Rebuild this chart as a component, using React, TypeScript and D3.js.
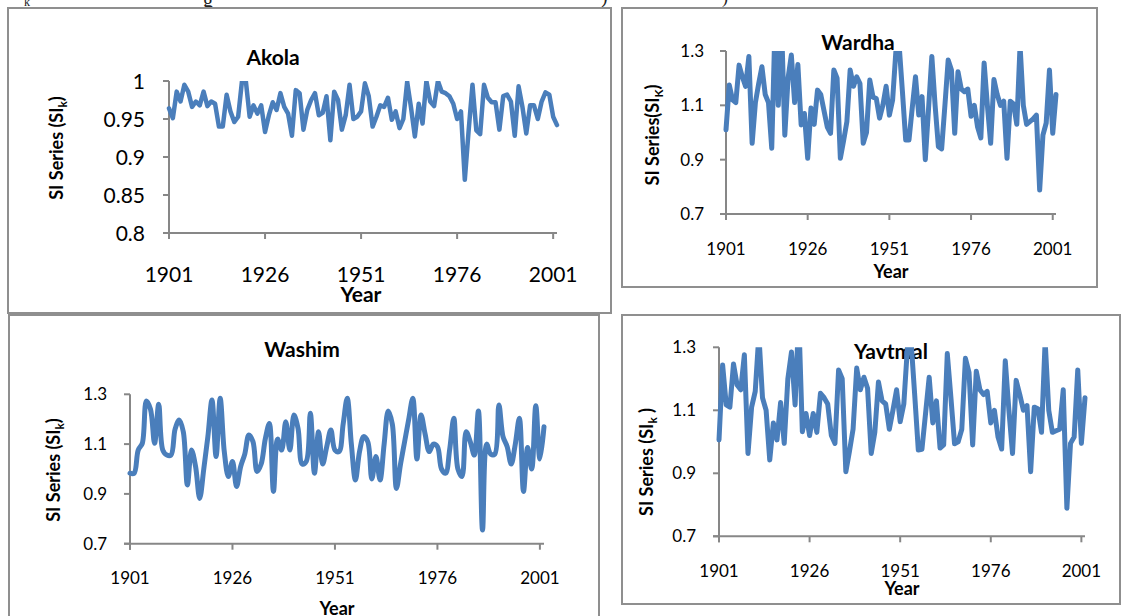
import React from 'react';
import * as d3 from 'd3';

// ---------- data ----------
const YEARS = d3.range(1901, 2003);
const YEAR_TICKS = [1901, 1926, 1951, 1976, 2001];

const AKOLA_TICKS = [0.8, 0.85, 0.9, 0.95, 1];
const AKOLA_TICK_LABELS = ['0.8', '0.85', '0.9', '0.95', '1'];
const SI_TICKS = [0.7, 0.9, 1.1, 1.3];
const SI_TICK_LABELS = ['0.7', '0.9', '1.1', '1.3'];

const AKOLA = [
  0.964, 0.951, 0.986, 0.973, 0.995, 0.986, 0.966, 0.973, 0.968, 0.986,
  0.967, 0.973, 0.970, 0.940, 0.940, 0.982, 0.960, 0.946, 0.953, 1.000,
  1.000, 0.953, 0.968, 0.957, 0.968, 0.933, 0.955, 0.972, 0.962, 0.984,
  0.966, 0.957, 0.928, 0.988, 0.984, 0.936, 0.962, 0.975, 0.984, 0.955,
  0.958, 0.980, 0.922, 0.986, 0.975, 0.936, 0.955, 0.995, 0.950, 0.953,
  0.960, 0.997, 0.980, 0.940, 0.953, 0.968, 0.966, 0.978, 0.949, 0.960,
  0.938, 0.950, 0.999, 0.965, 0.927, 0.970, 0.944, 1.000, 0.973, 0.967,
  1.000, 0.986, 0.984, 0.980, 0.970, 0.950, 0.960, 0.870, 0.935, 0.995,
  0.935, 0.930, 0.995, 0.978, 0.972, 0.972, 0.936, 0.980, 0.982, 0.973,
  0.928, 0.993, 0.966, 0.931, 0.968, 0.968, 0.950, 0.973, 0.985, 0.982,
  0.953, 0.942,
];

const WARDHA = [
  1.01, 1.175, 1.12, 1.11, 1.248, 1.205, 1.17, 1.28, 0.96, 1.11,
  1.18, 1.242, 1.14, 1.11, 0.942, 1.40, 1.10, 1.40, 0.99, 1.20,
  1.285, 1.11, 1.25, 1.028, 1.07, 0.905, 1.09, 1.03, 1.156, 1.14,
  1.08, 1.02, 0.997, 1.23, 1.20, 0.905, 0.97, 1.04, 1.23, 1.17,
  1.205, 1.18, 0.96, 1.0, 1.193, 1.13, 1.125, 1.053, 1.10, 1.17,
  1.064, 1.12, 1.30, 1.32, 1.15, 0.972, 0.972, 1.09, 1.205, 1.064,
  1.132, 0.90, 1.09, 1.28, 1.10, 0.948, 0.94, 1.10, 1.267, 1.23,
  0.997, 1.224, 1.16, 1.15, 1.16, 1.06, 1.10, 1.02, 0.98, 1.256,
  1.10, 0.96, 1.195, 1.14, 1.10, 1.115, 0.905, 1.115, 1.105, 1.03,
  1.32, 1.10, 1.03, 1.04, 1.05, 1.064, 0.788, 0.99, 1.035, 1.23,
  0.997, 1.14,
];

const WASHIM = [
  0.983, 0.983, 1.076, 1.103, 1.273, 1.24, 1.103, 1.26, 1.076, 1.056,
  1.056, 1.16, 1.197, 1.15, 0.936, 1.076, 1.01, 0.882, 1.0, 1.13,
  1.277, 1.05, 1.284, 1.07, 0.97, 1.03, 0.93, 1.01, 1.06, 1.137,
  1.11, 0.99, 1.02, 1.12, 1.183, 0.91, 1.12, 1.076, 1.19, 1.076,
  1.217, 1.163, 1.02, 1.03, 1.224, 0.983, 1.15, 1.02, 1.09, 1.157,
  1.076, 1.07, 1.18, 1.284, 1.10, 0.956, 1.07, 1.13, 1.11, 0.96,
  1.05, 0.956, 1.10, 1.233, 1.18, 0.922, 1.02, 1.11, 1.20, 1.284,
  1.04, 1.217, 1.14, 1.07, 1.10, 1.09, 1.0, 0.983, 1.08, 1.204,
  1.0, 0.97, 1.15, 1.11, 1.056, 1.233, 0.755, 1.10, 1.06, 1.06,
  1.257, 1.13, 1.09, 1.02, 1.10, 1.204, 0.91, 1.086, 1.0, 1.254,
  1.04, 1.17,
];

const YAVTMAL = [
  1.006, 1.244, 1.117, 1.11, 1.247, 1.18, 1.165, 1.276, 0.963, 1.11,
  1.16, 1.34, 1.14, 1.10, 0.942, 1.06, 1.006, 1.125, 0.995, 1.20,
  1.285, 1.117, 1.40, 1.032, 1.09, 1.02, 1.09, 1.03, 1.154, 1.14,
  1.12, 1.02, 0.995, 1.228, 1.20, 0.905, 0.97, 1.04, 1.234, 1.165,
  1.205, 1.17, 0.963, 1.03, 1.19, 1.13, 1.12, 1.04, 1.10, 1.165,
  1.064, 1.12, 1.30, 1.32, 1.15, 0.974, 0.976, 1.09, 1.205, 1.06,
  1.13, 0.98, 0.99, 1.28, 1.14, 0.994, 1.0, 1.04, 1.265, 1.22,
  0.99, 1.224, 1.165, 1.15, 1.16, 1.06, 1.10, 1.015, 0.977, 1.257,
  1.10, 0.963, 1.195, 1.15, 1.10, 1.115, 0.905, 1.11, 1.105, 1.03,
  1.32, 1.10, 1.03, 1.035, 1.04, 1.165, 0.789, 0.995, 1.015, 1.228,
  0.995, 1.14,
];

// ---------- style ----------
const FONT = "Lato, 'Open Sans', 'DejaVu Sans', sans-serif";
const BLUE = '#4a7ebb';
const AXIS = '#878787';
const BORDER = '#8f8f8f';

type Cfg = {
  id: string;
  title: string;
  values: number[];
  domain: [number, number];
  ticks: number[];
  tickLabels: string[];
  box: { x: number; y: number; w: number; h: number };
  x0: number; x1: number; yTop: number; yBot: number;
  tickFont: number; yLabelRight: number; xLabelBase: number;
  titleX: number; titleBase: number; titleFont: number;
  yearX: number; yearBase: number; yearFont: number;
  ylabX: number; ylabY: number; ylabFont: number;
  ylabSub: string; ylabSep: string; ylabEnd: string;
  lw: number; smooth: boolean;
};

const PANELS: Cfg[] = [
  {
    id: 'akola', title: 'Akola', values: AKOLA, domain: [0.8, 1.0],
    ticks: AKOLA_TICKS, tickLabels: AKOLA_TICK_LABELS,
    box: { x: 8, y: 8, w: 603, h: 305 },
    x0: 169, x1: 557, yTop: 81, yBot: 233,
    tickFont: 21, yLabelRight: 145, xLabelBase: 282,
    titleX: 273, titleBase: 65, titleFont: 21,
    yearX: 361, yearBase: 302, yearFont: 21,
    ylabX: 57, ylabY: 148, ylabFont: 18,
    ylabSub: 'k', ylabSep: ' (', ylabEnd: ')',
    lw: 4.5, smooth: false,
  },
  {
    id: 'wardha', title: 'Wardha', values: WARDHA, domain: [0.7, 1.3],
    ticks: SI_TICKS, tickLabels: SI_TICK_LABELS,
    box: { x: 622, y: 8, w: 475, h: 279 },
    x0: 726, x1: 1056, yTop: 51, yBot: 214,
    tickFont: 17, yLabelRight: 704, xLabelBase: 255,
    titleX: 858, titleBase: 50, titleFont: 21,
    yearX: 891, yearBase: 278, yearFont: 18,
    ylabX: 653, ylabY: 135, ylabFont: 18,
    ylabSub: 'K', ylabSep: '(', ylabEnd: ')',
    lw: 5, smooth: false,
  },
  {
    id: 'washim', title: 'Washim', values: WASHIM, domain: [0.7, 1.3],
    ticks: SI_TICKS, tickLabels: SI_TICK_LABELS,
    box: { x: 9, y: 315, w: 590, h: 320 },
    x0: 130, x1: 544, yTop: 394.3, yBot: 543.7,
    tickFont: 17, yLabelRight: 107, xLabelBase: 584,
    titleX: 302, titleBase: 357, titleFont: 21,
    yearX: 337, yearBase: 615, yearFont: 18,
    ylabX: 54, ylabY: 470, ylabFont: 18,
    ylabSub: 'k', ylabSep: ' (', ylabEnd: ')',
    lw: 5, smooth: true,
  },
  {
    id: 'yavtmal', title: 'Yavtmal', values: YAVTMAL, domain: [0.7, 1.3],
    ticks: SI_TICKS, tickLabels: SI_TICK_LABELS,
    box: { x: 622, y: 315, w: 498, h: 289 },
    x0: 719, x1: 1085, yTop: 347.3, yBot: 536.3,
    tickFont: 17, yLabelRight: 696, xLabelBase: 577,
    titleX: 891, titleBase: 359, titleFont: 21,
    yearX: 902, yearBase: 595, yearFont: 18,
    ylabX: 647, ylabY: 462, ylabFont: 18,
    ylabSub: 'k', ylabSep: ' (', ylabEnd: ' )',
    lw: 5, smooth: false,
  },
];

function Panel({ cfg }: { cfg: Cfg }) {
  const x = d3.scaleLinear().domain([YEARS[0], YEARS[YEARS.length - 1]]).range([cfg.x0, cfg.x1]);
  const y = d3.scaleLinear().domain(cfg.domain).range([cfg.yBot, cfg.yTop]);
  const line = d3
    .line<number>()
    .x((_, i) => x(YEARS[i]))
    .y((d) => y(d))
    .curve(cfg.smooth ? d3.curveCatmullRom.alpha(0.5) : d3.curveLinear);
  const clipId = `clip-${cfg.id}`;
  const fsSub = cfg.ylabFont * 0.65;
  return (
    <g>
      <rect x={cfg.box.x} y={cfg.box.y} width={cfg.box.w} height={cfg.box.h}
        fill="#fff" stroke={BORDER} strokeWidth={2} />
      <clipPath id={clipId}>
        <rect x={cfg.x0 - 6} y={cfg.yTop} width={cfg.x1 - cfg.x0 + 12} height={cfg.yBot - cfg.yTop + 8} />
      </clipPath>
      {/* title */}
      <text x={cfg.titleX} y={cfg.titleBase} textAnchor="middle" fontFamily={FONT}
        fontWeight="bold" fontSize={cfg.titleFont} fill="#000">{cfg.title}</text>
      {/* y axis */}
      <line x1={cfg.x0} x2={cfg.x0} y1={cfg.yTop} y2={cfg.yBot + 6} stroke={AXIS} strokeWidth={2} />
      {cfg.ticks.map((t, i) => (
        <g key={'yt' + i}>
          <line x1={cfg.x0 - 6} x2={cfg.x0} y1={y(t)} y2={y(t)} stroke={AXIS} strokeWidth={2} />
          <text x={cfg.yLabelRight} y={y(t) + cfg.tickFont * 0.36} textAnchor="end"
            fontFamily={FONT} fontSize={cfg.tickFont} fill="#000">{cfg.tickLabels[i]}</text>
        </g>
      ))}
      {/* x axis */}
      <line x1={cfg.x0 - 6} x2={cfg.x1} y1={cfg.yBot} y2={cfg.yBot} stroke={AXIS} strokeWidth={2} />
      {YEAR_TICKS.map((t) => (
        <g key={'xt' + t}>
          <line x1={x(t)} x2={x(t)} y1={cfg.yBot} y2={cfg.yBot + 6} stroke={AXIS} strokeWidth={2} />
          <text x={x(t)} y={cfg.xLabelBase} textAnchor="middle" fontFamily={FONT}
            fontSize={cfg.tickFont} fill="#000">{t}</text>
        </g>
      ))}
      <text x={cfg.yearX} y={cfg.yearBase} textAnchor="middle" fontFamily={FONT}
        fontWeight="bold" fontSize={cfg.yearFont} fill="#000">Year</text>
      {/* y label */}
      <text transform={`translate(${cfg.ylabX + cfg.ylabFont * 0.36},${cfg.ylabY}) rotate(-90)`}
        textAnchor="middle" fontFamily={FONT} fontWeight="bold" fontSize={cfg.ylabFont} fill="#000">
        {'SI Series' + cfg.ylabSep + 'SI'}
        <tspan dy={4} fontSize={fsSub}>{cfg.ylabSub}</tspan>
        <tspan dy={-4}>{cfg.ylabEnd}</tspan>
      </text>
      {/* series */}
      <path d={line(cfg.values) || ''} clipPath={`url(#${clipId})`} fill="none" stroke={BLUE}
        strokeWidth={cfg.lw} strokeLinejoin="round" strokeLinecap="round" />
    </g>
  );
}

export default function App() {
  return (
    <svg width={1121} height={616} viewBox="0 0 1121 616"
      style={{ position: 'absolute', left: 0, top: 0, background: '#fff' }}>
      <rect x={0} y={0} width={1121} height={616} fill="#fff" />
      {/* fragments of the cut-off caption line above the figure */}
      <g fontFamily="'Liberation Serif', 'DejaVu Serif', serif" fill="#222">
        <text x={24} y={6} fontSize={12}>k</text>
        <text x={203} y={7} fontSize={20}>g</text>
        <text x={601} y={3} fontSize={20}>)</text>
        <text x={722} y={3} fontSize={18}>)</text>
      </g>
      {PANELS.map((p) => <Panel key={p.id} cfg={p} />)}
    </svg>
  );
}
